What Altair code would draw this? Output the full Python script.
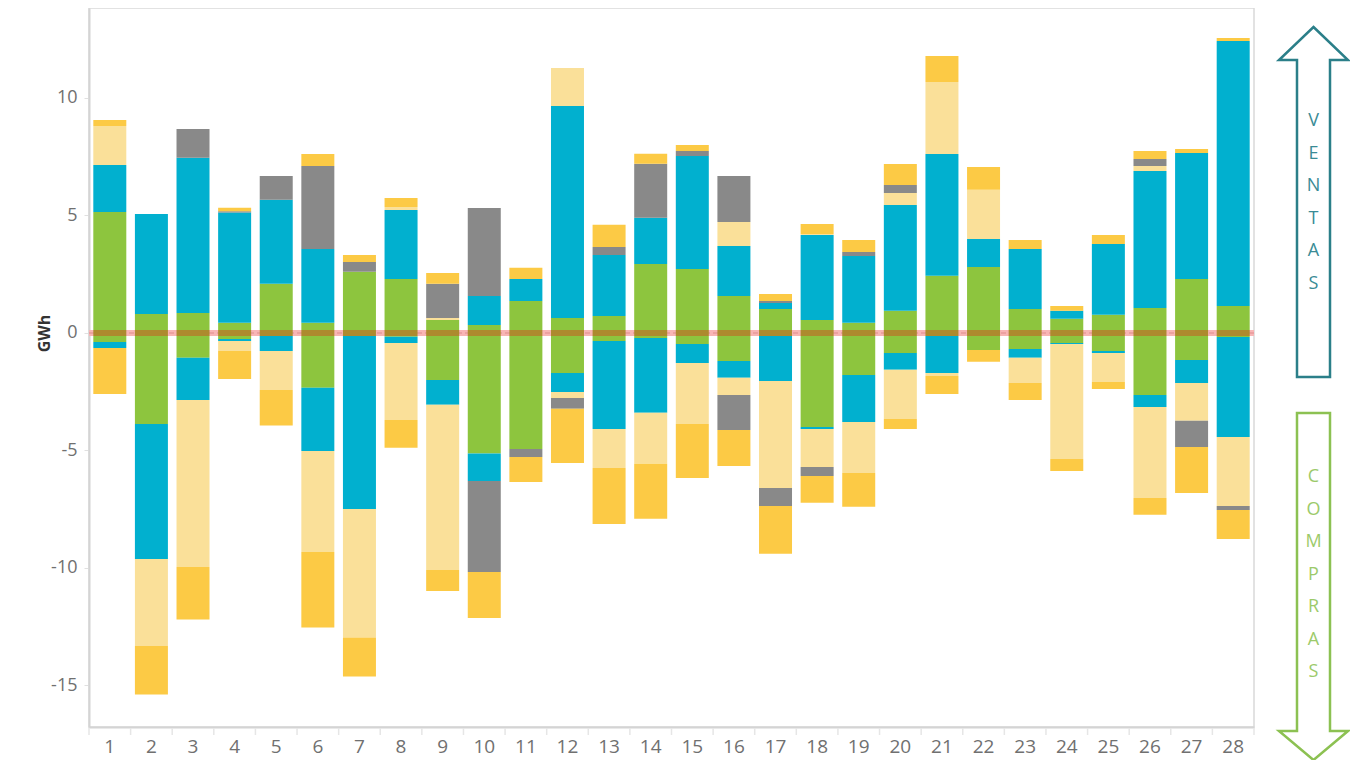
import altair as alt
import pandas as pd

days = list(range(1, 29))
series = ["Serie A", "Serie B", "Serie C", "Serie D", "Serie E"]
colors = ["#8DC53E", "#01B0CF", "#FAE099", "#898989", "#FCCA45"]

# Ventas (positive) per series
pos_a = [5.15, 0.81, 0.85, 0.43, 2.09, 0.43, 2.60, 2.30, 0.55, 0.34, 1.36, 0.64, 0.72, 2.94,
         2.72, 1.57, 1.02, 0.55, 0.43, 0.94, 2.43, 2.81, 1.02, 0.60, 0.77, 1.06, 2.30, 1.15]
pos_b = [2.00, 4.25, 6.61, 4.70, 3.58, 3.14, 0.00, 2.93, 0.00, 1.23, 0.94, 9.02, 2.60, 1.96,
         4.81, 2.13, 0.26, 3.62, 2.85, 4.51, 5.19, 1.19, 2.55, 0.34, 3.02, 5.83, 5.36, 11.28]
pos_c = [1.66, 0.00, 0.00, 0.00, 0.00, 0.00, 0.00, 0.13, 0.09, 0.00, 0.00, 1.62, 0.00, 0.00,
         0.00, 1.02, 0.00, 0.04, 0.00, 0.51, 3.06, 2.09, 0.00, 0.00, 0.00, 0.22, 0.00, 0.00]
pos_d = [0.00, 0.00, 1.22, 0.05, 1.01, 3.54, 0.42, 0.00, 1.45, 3.75, 0.00, 0.00, 0.34, 2.30,
         0.21, 1.96, 0.08, 0.00, 0.17, 0.34, 0.00, 0.00, 0.00, 0.00, 0.00, 0.29, 0.00, 0.00]
pos_e = [0.25, 0.00, 0.00, 0.15, 0.00, 0.51, 0.30, 0.38, 0.46, 0.00, 0.47, 0.00, 0.94, 0.43,
         0.26, 0.00, 0.30, 0.43, 0.51, 0.89, 1.11, 0.97, 0.39, 0.21, 0.38, 0.34, 0.17, 0.12]

# Compras (negative) per series
neg_a = [-0.38, -3.87, -1.06, -0.26, 0.00, -2.33, 0.00, -0.16, -2.00, -5.13, -4.94, -1.70, -0.34, -0.21,
         -0.47, -1.19, 0.00, -4.00, -1.79, -0.85, 0.00, -0.72, -0.68, -0.43, -0.77, -2.64, -1.15, -0.17]
neg_b = [-0.26, -5.75, -1.79, -0.08, -0.77, -2.69, -7.49, -0.27, -1.06, -1.17, 0.00, -0.81, -3.75, -3.19,
         -0.81, -0.72, -2.04, -0.09, -2.00, -0.72, -1.70, 0.00, -0.38, -0.04, -0.08, -0.51, -0.98, -4.26]
neg_c = [0.00, -3.70, -7.11, -0.43, -1.66, -4.30, -5.47, -3.27, -7.03, 0.00, 0.00, -0.26, -1.66, -2.17,
         -2.59, -0.73, -4.56, -1.61, -2.17, -2.09, -0.13, 0.00, -1.07, -4.89, -1.24, -3.87, -1.61, -2.93]
neg_d = [0.00, 0.00, 0.00, 0.00, 0.00, 0.00, 0.00, 0.00, 0.00, -3.87, -0.34, -0.46, 0.00, 0.00,
         0.00, -1.49, -0.76, -0.39, 0.00, 0.00, 0.00, 0.00, 0.00, 0.00, 0.00, 0.00, -1.11, -0.17]
neg_e = [-1.96, -2.07, -2.24, -1.19, -1.51, -3.22, -1.66, -1.19, -0.89, -1.96, -1.06, -2.30, -2.38, -2.34,
         -2.30, -1.53, -2.04, -1.14, -1.44, -0.43, -0.77, -0.51, -0.72, -0.51, -0.29, -0.72, -1.96, -1.24]

pos = [pos_a, pos_b, pos_c, pos_d, pos_e]
neg = [neg_a, neg_b, neg_c, neg_d, neg_e]

rows = []
for k, name in enumerate(series):
    for i, d in enumerate(days):
        for v in (pos[k][i], neg[k][i]):
            if v != 0:
                rows.append({"dia": d, "serie": name, "GWh": v, "ord": k})
df = pd.DataFrame(rows)
days_df = pd.DataFrame({"dia": days})
last_df = pd.DataFrame({"dia": [days[-1]]})
zero_df = pd.DataFrame({"z": [0]})
one_df = pd.DataFrame({"k": [0]})

W, H = 1165, 719
FONT = "Open Sans"

xscale = alt.Scale(domain=days, paddingInner=0, paddingOuter=0)
yscale = alt.Scale(domain=[-16.77, 13.83], nice=False, zero=False)

bars = alt.Chart(df).mark_bar(size=33).encode(
    x=alt.X("dia:O", scale=xscale,
            axis=alt.Axis(title=None, labelAngle=0, ticks=False, labelPadding=10,
                          labelFontSize=19, labelColor="#707070", labelFont=FONT,
                          domainColor="#d4d4d4", domainWidth=2)),
    y=alt.Y("GWh:Q", stack="zero", scale=yscale,
            axis=alt.Axis(values=[-15, -10, -5, 0, 5, 10], grid=False, tickSize=5,
                          tickColor="#e0e0e0", labelPadding=7, labelFontSize=18,
                          labelExpr="'' + datum.value",
                          labelColor="#707070", labelFont=FONT,
                          domainColor="#d4d4d4", domainWidth=2,
                          title="GWh", titleFont=FONT, titleFontSize=16,
                          titleFontWeight="bold", titleColor="#333333",
                          titleX=-45, titleY=325, titleAlign="center",
                          titleBaseline="middle", titleAngle=-90)),
    color=alt.Color("serie:N", scale=alt.Scale(domain=series, range=colors), legend=None),
    order=alt.Order("ord:Q", sort="ascending"),
)

xticks = alt.Chart(days_df).mark_rule(color="#e6e6e6", strokeWidth=1.5).encode(
    x=alt.X("dia:O", scale=xscale, bandPosition=0),
    y=alt.value(H + 1), y2=alt.value(H + 8),
)
xtick_end = alt.Chart(last_df).mark_rule(color="#e6e6e6", strokeWidth=1.5).encode(
    x=alt.X("dia:O", scale=xscale, bandPosition=1),
    y=alt.value(H + 1), y2=alt.value(H + 8),
)

zero_band = alt.Chart(zero_df).mark_rule(color="#f8b5b5", strokeWidth=6).encode(
    y=alt.Y("z:Q", scale=yscale))
zero_dash = alt.Chart(zero_df).mark_rule(color="#e79b9b", strokeWidth=1.5,
                                         strokeDash=[5, 3]).encode(
    y=alt.Y("z:Q", scale=yscale))
zero_ticks = alt.Chart(days_df).mark_tick(orient="horizontal", size=33, thickness=6,
                                          color="#ad8a2e", opacity=1).encode(
    x=alt.X("dia:O", scale=xscale),
    y=alt.datum(0),
)

up_path = ("M0,-0.875 L0.1725,-0.71 L0.0825,-0.71 L0.0825,0.875 "
           "L-0.0825,0.875 L-0.0825,-0.71 L-0.1725,-0.71 Z")
down_path = ("M-0.0825,-0.8675 L0.0825,-0.8675 L0.0825,0.7225 L0.1725,0.7225 "
             "L0,0.8675 L-0.1725,0.7225 L-0.0825,0.7225 Z")

ax = 1313.5 - 89
arrow_up = alt.Chart(one_df).mark_point(shape=up_path, size=160000, filled=False,
                                        stroke="#2b7f89", strokeWidth=2.5, opacity=1).encode(
    x=alt.value(ax), y=alt.value(194))
arrow_down = alt.Chart(one_df).mark_point(shape=down_path, size=160000, filled=False,
                                          stroke="#8cc152", strokeWidth=2.5, opacity=1).encode(
    x=alt.value(ax), y=alt.value(578.5))
text_up = alt.Chart(one_df).mark_text(text=list("VENTAS"), font=FONT, fontSize=18,
                                      color="#3a8b95", lineHeight=32.6, align="center",
                                      baseline="middle").encode(
    x=alt.value(ax), y=alt.value(113))
text_down = alt.Chart(one_df).mark_text(text=list("COMPRAS"), font=FONT, fontSize=18,
                                        color="#9cca6a", lineHeight=32.5, align="center",
                                        baseline="middle").encode(
    x=alt.value(ax), y=alt.value(469))

chart = alt.layer(
    bars, zero_band, zero_dash, zero_ticks, xticks, xtick_end,
    arrow_up, arrow_down, text_up, text_down,
).properties(
    width=W, height=H,
    autosize=alt.AutoSizeParams(type="none"),
    padding={"left": 81, "top": 0, "right": 96, "bottom": 33},
).configure_view(stroke="#d9d9d9", strokeWidth=1.5)

chart.save("out.html", embed_options={"renderer": "svg", "actions": False})
